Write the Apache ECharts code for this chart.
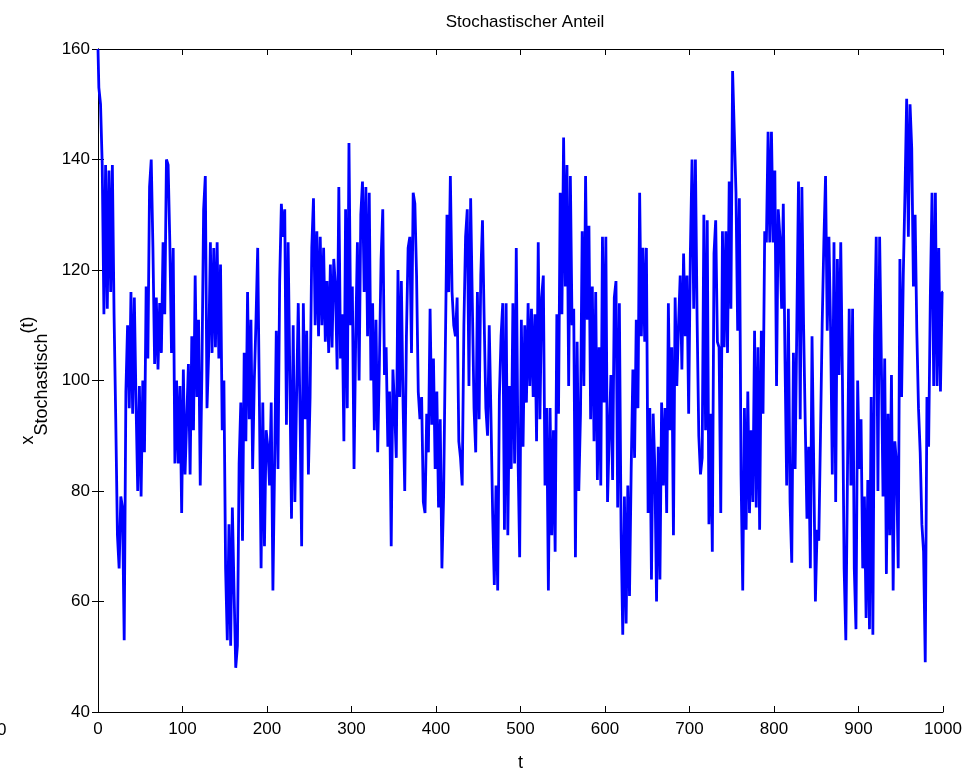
<!DOCTYPE html>
<html>
<head>
<meta charset="utf-8">
<title>Stochastischer Anteil</title>
<script src="https://cdn.jsdelivr.net/npm/echarts@6/dist/echarts.min.js"></script>
<style>
  html, body { margin: 0; padding: 0; background: #fff; }
  #chart { width: 971px; height: 777px; }
</style>
</head>
<body>
<div id="chart"></div>
<script>
// sample spacing along t (values every 2 steps)
const tStep = 2
const xStochastisch = [
  160, 153, 150, 139, 112, 139, 113, 138, 116, 139,
  112, 93, 72, 66, 79, 77, 53, 98, 110, 95,
  116, 94, 115, 96, 80, 99, 79, 100, 87, 117,
  104, 135, 140, 124, 103, 115, 102, 114, 105, 125,
  112, 140, 139, 125, 105, 124, 85, 100, 85, 99,
  76, 102, 83, 93, 103, 83, 108, 91, 119, 97,
  111, 81, 102, 131, 137, 95, 105, 125, 105, 124,
  106, 125, 104, 121, 91, 100, 66, 53, 74, 52,
  77, 62, 48, 52, 85, 96, 71, 105, 89, 116,
  93, 111, 84, 100, 111, 124, 96, 66, 96, 70,
  91, 88, 81, 96, 62, 85, 109, 84, 118, 132,
  126, 131, 92, 125, 101, 75, 110, 78, 97, 114,
  95, 70, 114, 93, 109, 83, 97, 124, 133, 110,
  127, 108, 126, 110, 124, 107, 118, 105, 121, 106,
  122, 117, 102, 135, 104, 112, 89, 131, 95, 143,
  110, 117, 84, 108, 125, 100, 130, 136, 116, 135,
  108, 134, 100, 114, 91, 111, 87, 103, 122, 131,
  101, 106, 88, 98, 70, 102, 95, 86, 120, 97,
  118, 96, 80, 108, 124, 126, 105, 134, 132, 119,
  98, 93, 97, 78, 76, 94, 87, 113, 92, 104,
  84, 98, 77, 93, 66, 79, 105, 130, 116, 137,
  116, 110, 108, 115, 89, 86, 81, 110, 126, 131,
  99, 133, 114, 95, 87, 116, 93, 119, 129, 111,
  95, 90, 110, 94, 76, 63, 81, 62, 97, 108,
  114, 73, 114, 72, 99, 84, 114, 85, 124, 87,
  68, 111, 88, 110, 96, 114, 99, 113, 97, 112,
  89, 125, 93, 115, 119, 81, 95, 62, 95, 72,
  91, 69, 112, 94, 134, 112, 144, 117, 139, 99,
  137, 110, 113, 68, 107, 80, 94, 127, 99, 137,
  111, 128, 93, 117, 89, 116, 82, 106, 81, 126,
  96, 126, 78, 90, 101, 82, 115, 118, 77, 114,
  73, 54, 79, 56, 81, 61, 84, 102, 86, 111,
  95, 134, 108, 124, 107, 124, 76, 95, 64, 94,
  84, 60, 88, 64, 96, 81, 95, 76, 114, 91,
  106, 72, 115, 99, 110, 119, 102, 123, 108, 119,
  94, 123, 140, 113, 140, 111, 90, 83, 86, 130,
  91, 129, 74, 94, 69, 123, 129, 107, 106, 76,
  127, 106, 127, 105, 136, 113, 156, 145, 134, 109,
  133, 83, 62, 95, 73, 98, 76, 91, 78, 109,
  77, 106, 73, 109, 94, 127, 125, 145, 125, 145,
  125, 138, 99, 131, 126, 113, 132, 104, 81, 113,
  78, 67, 105, 84, 110, 136, 93, 135, 110, 92,
  75, 88, 66, 108, 85, 60, 73, 71, 90, 110,
  125, 137, 109, 126, 109, 83, 125, 78, 122, 101,
  125, 100, 66, 53, 84, 113, 81, 113, 66, 55,
  100, 84, 93, 66, 79, 57, 82, 55, 97, 54,
  108, 126, 80, 126, 104, 79, 104, 65, 94, 72,
  101, 62, 89, 85, 66, 122, 97, 119, 134, 151,
  126, 150, 142, 117, 130, 109, 95, 87, 74, 69,
  49, 97, 88, 115, 134, 99, 134, 99, 124, 98,
  116
]
const tTicks = [0, 1000, 100]
const yTicks = [40, 160, 20]

const seriesData = xStochastisch.map((v, i) => [i * tStep, v])

const chart = echarts.init(document.getElementById('chart'), null, { renderer: 'canvas' })

const font = 'Liberation Sans, Arial, Helvetica, sans-serif'
const axisLine = { show: true, lineStyle: { color: '#000', width: 1 } }
const tick = { inside: true, length: 6, lineStyle: { color: '#000' } }

const option = {
  animation: false,
  backgroundColor: '#fff',
  title: {
    text: 'Stochastischer Anteil',
    left: 520,
    top: 9,
    textAlign: 'center',
    textStyle: { fontFamily: font, fontSize: 17, fontWeight: 'normal', color: '#000' },
  },
  grid: { left: 98, right: 28, top: 49, bottom: 65 },
  xAxis: [
    {
      type: 'value',
      min: tTicks[0],
      max: tTicks[1],
      interval: tTicks[2],
      name: 't',
      nameLocation: 'middle',
      nameGap: 42,
      nameTextStyle: { fontFamily: font, fontSize: 18, color: '#000' },
      axisLine,
      axisTick: tick,
      axisLabel: { fontFamily: font, fontSize: 17, color: '#000', margin: 9, formatter: (v) => String(v) },
      splitLine: { show: false },
    },
    {
      type: 'value',
      position: 'top',
      min: tTicks[0],
      max: tTicks[1],
      interval: tTicks[2],
      axisLine,
      axisTick: tick,
      axisLabel: { show: false },
      splitLine: { show: false },
    },
  ],
  yAxis: [
    {
      type: 'value',
      min: yTicks[0],
      max: yTicks[1],
      interval: yTicks[2],
      name: 'x{sub|Stochastisch}(t)',
      nameLocation: 'middle',
      nameGap: 52,
      nameRotate: 90,
      nameTextStyle: {
        fontFamily: font,
        fontSize: 18,
        color: '#000',
        rich: {
          sub: { fontFamily: font, fontSize: 18, color: '#000', verticalAlign: 'bottom', padding: [0, 0, -14, 0] },
        },
      },
      axisLine,
      axisTick: tick,
      axisLabel: { fontFamily: font, fontSize: 17, color: '#000', margin: 8 },
      splitLine: { show: false },
    },
    {
      type: 'value',
      position: 'right',
      min: yTicks[0],
      max: yTicks[1],
      interval: yTicks[2],
      axisLine,
      axisTick: tick,
      axisLabel: { show: false },
      splitLine: { show: false },
    },
  ],
  graphic: [
    {
      type: 'text',
      left: -3,
      top: 722,
      style: { text: '0', font: '17px ' + font, fill: '#000' },
    },
  ],
  series: [
    {
      type: 'line',
      data: seriesData,
      xAxisIndex: 0,
      yAxisIndex: 0,
      step: 'middle',
      showSymbol: false,
      symbol: 'none',
      lineStyle: { color: '#0000ff', width: 2.8 },
      clip: true,
    },
  ],
}

chart.setOption(option)
</script>
</body>
</html>
